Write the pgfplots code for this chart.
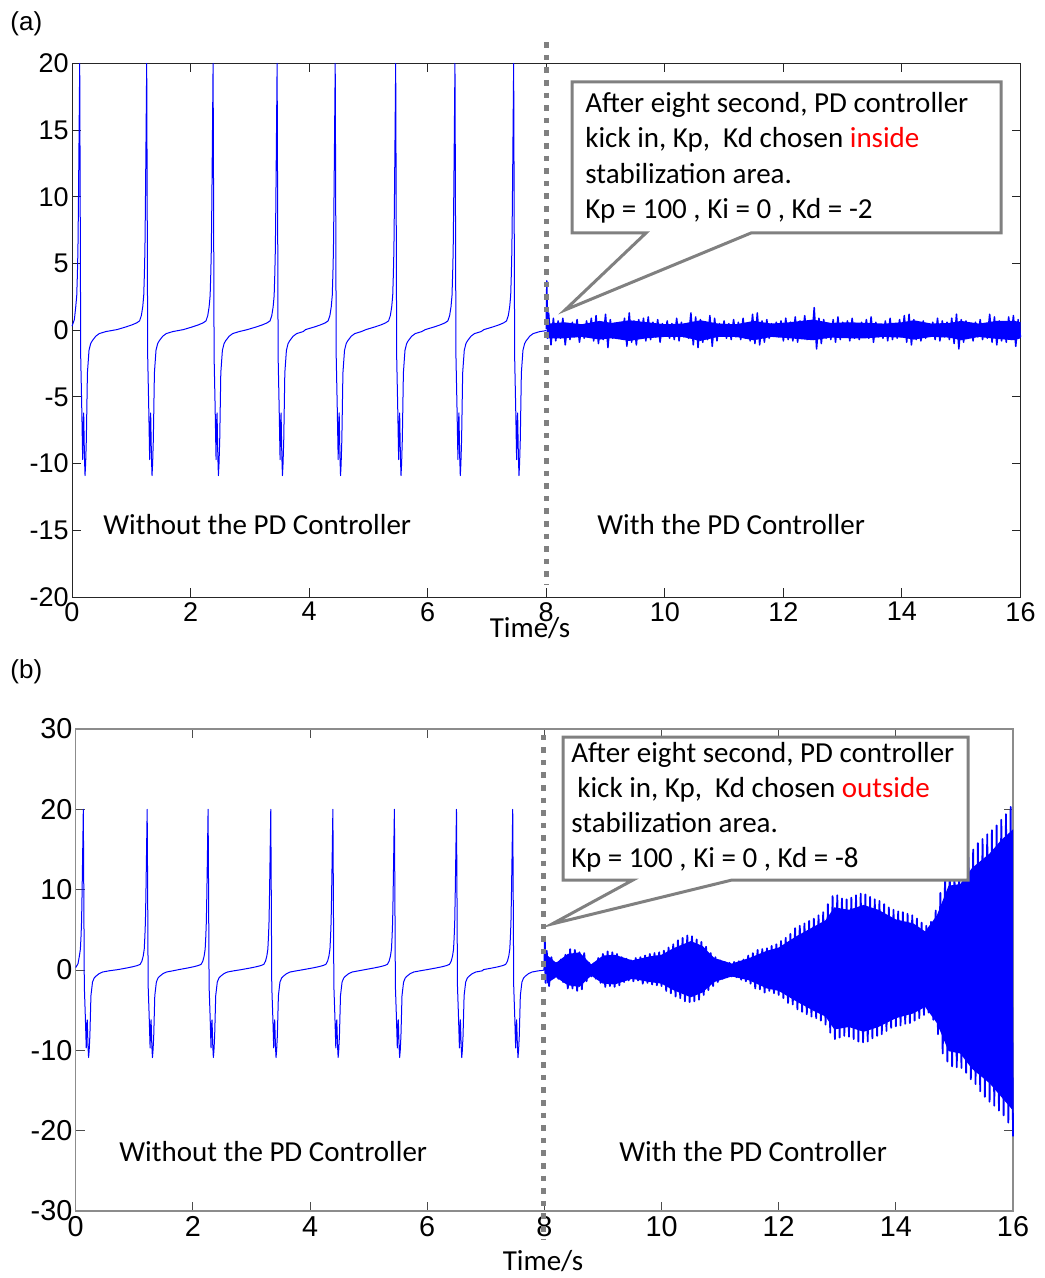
\documentclass[border=0pt]{standalone}
\usepackage{pgfplots}
\pgfplotsset{compat=1.18}
\usepackage{fontspec}
\setmainfont{Carlito}
\newfontfamily\arialf{Liberation Sans}
\definecolor{sigblue}{RGB}{0,0,255}
\definecolor{dotgray}{RGB}{128,128,128}
\definecolor{axgray}{RGB}{140,140,140}

\begin{document}
\begin{tikzpicture}
\useasboundingbox (0,0) rectangle (522pt,-639pt);
\pgfplotsset{
  base/.style={scale only axis, xmin=0, xmax=16, xtick={0,2,...,16},
    tick align=inside, major tick length=4.5pt, clip=false,
    /pgf/number format/assume math mode=true,
    yticklabel style={inner sep=1.5pt}, xticklabel style={inner sep=2.5pt}},
  sig/.style={sigblue, line width=0.5pt, line join=round, mark=none},
}
% ---------------- panel (a) ----------------
\begin{axis}[base, at={(36pt,-31.75pt)}, anchor=north west,
  width=474.25pt, height=266.75pt, ymin=-20, ymax=20, ytick={-20,-15,...,20},
  axis line style={black!85, line width=0.5pt}, tick style={black!85, line width=0.5pt},
  ticklabel style={font=\arialf\fontsize{13.5}{16}\selectfont}]
\addplot[sig] coordinates {
(0,0.3) (0.04,0.8) (0.063,1.75) (0.08,2.6) (0.091,4.2) (0.1,6) (0.108,9.2) (0.118,14) (0.13,20)
(0.138,10) (0.147,-2) (0.164,-5.7) (0.18,-9.7) (0.188,-7) (0.197,-6.2) (0.21,-9.5) (0.22,-10.9) (0.23,-10) (0.242,-8.2) (0.26,-3.2) (0.287,-1.5) (0.315,-1.0) (0.34,-0.8) (0.40,-0.45) (0.46,-0.25) (0.57,-0.1)
(0.76,0.05) (0.91,0.25) (1.01,0.4) (1.09,0.55) (1.14,0.7) (1.17,1.1) (1.193,1.75) (1.21,2.6) (1.221,4.2) (1.23,6) (1.238,9.2) (1.248,14) (1.26,20)
(1.268,10) (1.277,-2) (1.294,-5.7) (1.31,-9.7) (1.318,-7) (1.327,-6.2) (1.34,-9.5) (1.35,-10.9) (1.36,-10) (1.372,-8.2) (1.39,-3.2) (1.417,-1.5) (1.445,-1.0) (1.47,-0.8) (1.53,-0.45) (1.59,-0.25) (1.70,-0.1)
(1.88,0.05) (2.03,0.25) (2.13,0.4) (2.21,0.55) (2.26,0.7) (2.29,1.1) (2.313,1.75) (2.33,2.6) (2.341,4.2) (2.35,6) (2.358,9.2) (2.368,14) (2.38,20)
(2.388,10) (2.397,-2) (2.414,-5.7) (2.43,-9.7) (2.438,-7) (2.447,-6.2) (2.46,-9.5) (2.47,-10.9) (2.48,-10) (2.492,-8.2) (2.51,-3.2) (2.537,-1.5) (2.565,-1.0) (2.59,-0.8) (2.65,-0.45) (2.71,-0.25) (2.82,-0.1)
(2.96,0.05) (3.11,0.25) (3.21,0.4) (3.29,0.55) (3.34,0.7) (3.37,1.1) (3.393,1.75) (3.41,2.6) (3.421,4.2) (3.43,6) (3.438,9.2) (3.448,14) (3.46,20)
(3.468,10) (3.477,-2) (3.494,-5.7) (3.51,-9.7) (3.518,-7) (3.527,-6.2) (3.54,-9.5) (3.55,-10.9) (3.56,-10) (3.572,-8.2) (3.59,-3.2) (3.617,-1.5) (3.645,-1.0) (3.67,-0.8) (3.73,-0.45) (3.79,-0.25) (3.90,-0.1)
(3.94,0.05) (4.09,0.25) (4.19,0.4) (4.27,0.55) (4.32,0.7) (4.35,1.1) (4.373,1.75) (4.39,2.6) (4.401,4.2) (4.41,6) (4.418,9.2) (4.428,14) (4.44,20)
(4.448,10) (4.457,-2) (4.474,-5.7) (4.49,-9.7) (4.498,-7) (4.507,-6.2) (4.52,-9.5) (4.53,-10.9) (4.54,-10) (4.552,-8.2) (4.57,-3.2) (4.597,-1.5) (4.625,-1.0) (4.65,-0.8) (4.71,-0.45) (4.77,-0.25) (4.88,-0.1)
(4.96,0.05) (5.11,0.25) (5.21,0.4) (5.29,0.55) (5.34,0.7) (5.37,1.1) (5.393,1.75) (5.41,2.6) (5.421,4.2) (5.43,6) (5.438,9.2) (5.448,14) (5.46,20)
(5.468,10) (5.477,-2) (5.494,-5.7) (5.51,-9.7) (5.518,-7) (5.527,-6.2) (5.54,-9.5) (5.55,-10.9) (5.56,-10) (5.572,-8.2) (5.59,-3.2) (5.617,-1.5) (5.645,-1.0) (5.67,-0.8) (5.73,-0.45) (5.79,-0.25) (5.90,-0.1)
(5.96,0.05) (6.11,0.25) (6.21,0.4) (6.29,0.55) (6.34,0.7) (6.37,1.1) (6.393,1.75) (6.41,2.6) (6.421,4.2) (6.43,6) (6.438,9.2) (6.448,14) (6.46,20)
(6.468,10) (6.477,-2) (6.494,-5.7) (6.51,-9.7) (6.518,-7) (6.527,-6.2) (6.54,-9.5) (6.55,-10.9) (6.56,-10) (6.572,-8.2) (6.59,-3.2) (6.617,-1.5) (6.645,-1.0) (6.67,-0.8) (6.73,-0.45) (6.79,-0.25) (6.90,-0.1)
(6.95,0.05) (7.10,0.25) (7.20,0.4) (7.28,0.55) (7.33,0.7) (7.36,1.1) (7.383,1.75) (7.40,2.6) (7.411,4.2) (7.42,6) (7.428,9.2) (7.438,14) (7.45,20)
(7.458,10) (7.467,-2) (7.484,-5.7) (7.50,-9.7) (7.508,-7) (7.517,-6.2) (7.53,-9.5) (7.54,-10.9) (7.55,-10) (7.562,-8.2) (7.58,-3.2) (7.607,-1.5) (7.635,-1.0) (7.66,-0.8) (7.72,-0.45) (7.78,-0.25) (7.89,-0.1) (7.97,-0.05) (8.0,0)
};
% dense core of the small noise
\addplot[fill=sigblue, draw=none] coordinates {
(8.03,0.5) (8.3,0.6) (8.6,0.45) (8.9,0.7) (9.1,0.55) (9.4,0.75) (9.7,0.6) (10.0,0.45) (10.3,0.5) (10.6,0.75) (10.9,0.5) (11.2,0.45) (11.5,0.7) (11.8,0.5) (12.1,0.6) (12.5,0.8) (12.8,0.55) (13.1,0.6) (13.4,0.55) (13.7,0.5) (14.0,0.6) (14.2,0.75) (14.5,0.5) (14.8,0.55) (15.0,0.7) (15.3,0.5) (15.6,0.7) (15.9,0.7) (16.0,0.6)
(16.0,-0.6) (15.9,-0.75) (15.6,-0.65) (15.3,-0.5) (15.0,-0.75) (14.8,-0.55) (14.5,-0.5) (14.2,-0.7) (14.0,-0.55) (13.7,-0.5) (13.4,-0.6) (13.1,-0.6) (12.8,-0.55) (12.5,-0.75) (12.1,-0.6) (11.8,-0.5) (11.5,-0.75) (11.2,-0.5) (10.9,-0.5) (10.6,-0.8) (10.3,-0.5) (10.0,-0.5) (9.7,-0.6) (9.4,-0.8) (9.1,-0.6) (8.9,-0.7) (8.6,-0.5) (8.3,-0.6) (8.03,-0.6)
};
\addplot[sig, line width=0.75pt] coordinates {
(8.00,0.1) (8.01,3.7) (8.02,-0.6)
(8.04,1.3) (8.08,-1.1) (8.12,0.9) (8.16,-0.8) (8.20,0.7) (8.24,-0.6) (8.28,0.9) (8.32,-1.1) (8.36,0.5) (8.40,-0.7)
(8.44,0.6) (8.48,-0.5) (8.52,0.8) (8.56,-0.9) (8.60,0.4) (8.64,-0.6) (8.68,0.7) (8.72,-0.5) (8.76,0.9) (8.80,-0.8)
(8.84,1.1) (8.88,-1.0) (8.92,0.6) (8.96,-0.7) (9.00,1.2) (9.04,-1.3) (9.08,0.8) (9.12,-0.6) (9.16,0.4) (9.20,-0.5)
(9.24,0.3) (9.28,-0.4) (9.32,0.9) (9.36,-1.2) (9.40,1.3) (9.44,-0.9) (9.48,0.7) (9.52,-1.1) (9.56,0.8) (9.60,-0.6)
(9.64,0.9) (9.68,-0.8) (9.72,1.0) (9.76,-0.7) (9.80,0.6) (9.84,-0.5) (9.88,0.8) (9.92,-0.9) (9.96,0.5) (10.00,-0.4)
(10.04,0.7) (10.08,-0.6) (10.12,0.5) (10.16,-0.7) (10.20,0.9) (10.24,-0.8) (10.28,0.6) (10.32,-0.5) (10.36,0.4) (10.40,-0.6)
(10.44,1.3) (10.48,-1.1) (10.52,1.0) (10.56,-1.3) (10.60,0.8) (10.64,-0.9) (10.68,0.6) (10.72,-0.7) (10.76,1.1) (10.80,-1.2)
(10.84,0.9) (10.88,-0.8) (10.92,0.5) (10.96,-0.4) (11.00,0.7) (11.04,-0.6) (11.08,0.5) (11.12,-0.7) (11.16,0.8) (11.20,-0.5)
(11.24,0.6) (11.28,-0.7) (11.32,0.9) (11.36,-0.6) (11.40,0.4) (11.44,-0.8) (11.48,1.2) (11.52,-1.0) (11.56,1.3) (11.60,-1.1)
(11.64,0.7) (11.68,-0.9) (11.72,0.8) (11.76,-0.6) (11.80,0.5) (11.84,-0.4) (11.88,0.6) (11.92,-0.5) (11.96,0.7) (12.00,-0.8)
(12.04,0.9) (12.08,-0.7) (12.12,0.6) (12.16,-0.8) (12.20,1.0) (12.24,-0.9) (12.28,0.7) (12.32,-0.6) (12.36,1.1) (12.40,-0.7)
(12.44,0.5) (12.48,-0.6) (12.52,1.7) (12.56,-1.4) (12.60,0.9) (12.64,-1.0) (12.68,0.8) (12.72,-0.6) (12.76,0.5) (12.80,-0.7)
(12.84,0.8) (12.88,-0.9) (12.92,1.0) (12.96,-0.7) (13.00,0.6) (13.04,-0.5) (13.08,0.7) (13.12,-0.8) (13.16,0.9) (13.20,-0.6)
(13.24,0.5) (13.28,-0.7) (13.32,0.6) (13.36,-0.5) (13.40,0.8) (13.44,-0.6) (13.48,1.0) (13.52,-0.9) (13.56,0.6) (13.60,-0.5)
(13.64,0.4) (13.68,-0.6) (13.72,0.7) (13.76,-0.8) (13.80,0.9) (13.84,-0.7) (13.88,0.5) (13.92,-0.6) (13.96,0.8) (14.00,-0.5)
(14.04,1.1) (14.08,-0.9) (14.12,1.2) (14.16,-1.1) (14.20,0.8) (14.24,-0.7) (14.28,0.6) (14.32,-0.8) (14.36,0.7) (14.40,-0.6)
(14.44,0.5) (14.48,-0.4) (14.52,0.6) (14.56,-0.7) (14.60,0.9) (14.64,-0.8) (14.68,0.7) (14.72,-0.5) (14.76,0.6) (14.80,-0.7)
(14.84,0.9) (14.88,-1.0) (14.92,1.2) (14.96,-1.4) (15.00,0.8) (15.04,-0.9) (15.08,0.7) (15.12,-0.6) (15.16,0.5) (15.20,-0.8)
(15.24,0.6) (15.28,-0.5) (15.32,0.8) (15.36,-0.7) (15.40,0.5) (15.44,-0.6) (15.48,1.2) (15.52,-0.9) (15.56,1.0) (15.60,-1.1)
(15.64,0.7) (15.68,-0.8) (15.72,0.6) (15.76,-0.9) (15.80,1.0) (15.84,-0.7) (15.88,1.1) (15.92,-1.2) (15.96,0.8) (16.00,-0.5)
};
\draw[dotgray, line width=2.6pt, dash pattern=on 2.8pt off 3.5pt] (axis cs:8.005,21.6) -- (axis cs:8.005,-19.1);
\end{axis}
% ---------------- panel (b) ----------------
\begin{axis}[base, at={(37.85pt,-364.5pt)}, anchor=north west,
  width=468.65pt, height=241pt, ymin=-30, ymax=30, ytick={-30,-20,...,30},
  axis line style={axgray, line width=0.7pt}, tick style={black!70, line width=0.5pt},
  ticklabel style={font=\arialf\fontsize{14.4}{17}\selectfont}]
\addplot[sig] coordinates {
(0,0.3) (0.04,0.8) (0.063,1.75) (0.08,2.6) (0.091,4.2) (0.1,6) (0.108,9.2) (0.118,14) (0.13,20)
(0.138,10) (0.147,-2) (0.164,-5.7) (0.18,-9.7) (0.188,-7) (0.197,-6.2) (0.21,-9.5) (0.22,-10.9) (0.23,-10) (0.242,-8.2) (0.26,-3.2) (0.287,-1.5) (0.315,-1.0) (0.34,-0.8) (0.40,-0.45) (0.46,-0.25) (0.57,-0.1)
(0.72,0.05) (0.87,0.25) (0.97,0.4) (1.05,0.55) (1.10,0.7) (1.13,1.1) (1.153,1.75) (1.17,2.6) (1.181,4.2) (1.19,6) (1.198,9.2) (1.208,14) (1.22,20)
(1.228,10) (1.237,-2) (1.254,-5.7) (1.27,-9.7) (1.278,-7) (1.287,-6.2) (1.30,-9.5) (1.31,-10.9) (1.32,-10) (1.332,-8.2) (1.35,-3.2) (1.377,-1.5) (1.405,-1.0) (1.43,-0.8) (1.49,-0.45) (1.55,-0.25) (1.66,-0.1)
(1.76,0.05) (1.91,0.25) (2.01,0.4) (2.09,0.55) (2.14,0.7) (2.17,1.1) (2.193,1.75) (2.21,2.6) (2.221,4.2) (2.23,6) (2.238,9.2) (2.248,14) (2.26,20)
(2.268,10) (2.277,-2) (2.294,-5.7) (2.31,-9.7) (2.318,-7) (2.327,-6.2) (2.34,-9.5) (2.35,-10.9) (2.36,-10) (2.372,-8.2) (2.39,-3.2) (2.417,-1.5) (2.445,-1.0) (2.47,-0.8) (2.53,-0.45) (2.59,-0.25) (2.70,-0.1)
(2.83,0.05) (2.98,0.25) (3.08,0.4) (3.16,0.55) (3.21,0.7) (3.24,1.1) (3.263,1.75) (3.28,2.6) (3.291,4.2) (3.30,6) (3.308,9.2) (3.318,14) (3.33,20)
(3.338,10) (3.347,-2) (3.364,-5.7) (3.38,-9.7) (3.388,-7) (3.397,-6.2) (3.41,-9.5) (3.42,-10.9) (3.43,-10) (3.442,-8.2) (3.46,-3.2) (3.487,-1.5) (3.515,-1.0) (3.54,-0.8) (3.60,-0.45) (3.66,-0.25) (3.77,-0.1)
(3.89,0.05) (4.04,0.25) (4.14,0.4) (4.22,0.55) (4.27,0.7) (4.30,1.1) (4.323,1.75) (4.34,2.6) (4.351,4.2) (4.36,6) (4.368,9.2) (4.378,14) (4.39,20)
(4.398,10) (4.407,-2) (4.424,-5.7) (4.44,-9.7) (4.448,-7) (4.457,-6.2) (4.47,-9.5) (4.48,-10.9) (4.49,-10) (4.502,-8.2) (4.52,-3.2) (4.547,-1.5) (4.575,-1.0) (4.60,-0.8) (4.66,-0.45) (4.72,-0.25) (4.83,-0.1)
(4.94,0.05) (5.09,0.25) (5.19,0.4) (5.27,0.55) (5.32,0.7) (5.35,1.1) (5.373,1.75) (5.39,2.6) (5.401,4.2) (5.41,6) (5.418,9.2) (5.428,14) (5.44,20)
(5.448,10) (5.457,-2) (5.474,-5.7) (5.49,-9.7) (5.498,-7) (5.507,-6.2) (5.52,-9.5) (5.53,-10.9) (5.54,-10) (5.552,-8.2) (5.57,-3.2) (5.597,-1.5) (5.625,-1.0) (5.65,-0.8) (5.71,-0.45) (5.77,-0.25) (5.88,-0.1)
(6.00,0.05) (6.15,0.25) (6.25,0.4) (6.33,0.55) (6.38,0.7) (6.41,1.1) (6.433,1.75) (6.45,2.6) (6.461,4.2) (6.47,6) (6.478,9.2) (6.488,14) (6.50,20)
(6.508,10) (6.517,-2) (6.534,-5.7) (6.55,-9.7) (6.558,-7) (6.567,-6.2) (6.58,-9.5) (6.59,-10.9) (6.60,-10) (6.612,-8.2) (6.63,-3.2) (6.657,-1.5) (6.685,-1.0) (6.71,-0.8) (6.77,-0.45) (6.83,-0.25) (6.94,-0.1)
(6.96,0.05) (7.11,0.25) (7.21,0.4) (7.29,0.55) (7.34,0.7) (7.37,1.1) (7.393,1.75) (7.41,2.6) (7.421,4.2) (7.43,6) (7.438,9.2) (7.448,14) (7.46,20)
(7.468,10) (7.477,-2) (7.494,-5.7) (7.51,-9.7) (7.518,-7) (7.527,-6.2) (7.54,-9.5) (7.55,-10.9) (7.56,-10) (7.572,-8.2) (7.59,-3.2) (7.617,-1.5) (7.645,-1.0) (7.67,-0.8) (7.73,-0.45) (7.79,-0.25) (7.90,-0.1) (7.97,-0.05) (8.0,0)
};
% solid core of the growing oscillation
\addplot[fill=sigblue, draw=none] coordinates {
(8.04,1.9) (8.2,0.9) (8.4,2.0) (8.6,2.2) (8.8,0.7) (9.0,1.8) (9.2,1.9) (9.5,1.2) (9.8,1.7) (10.0,1.9) (10.2,2.7) (10.5,3.6) (10.7,3.0) (10.9,1.5) (11.2,0.8) (11.5,1.5) (11.8,2.4) (12.0,2.8) (12.3,4.2) (12.6,5.4) (12.8,6.2) (12.95,7.8) (13.2,7.5) (13.45,8.1) (13.7,7.5) (14.0,6.3) (14.3,5.8) (14.5,4.8) (14.7,6.8) (14.9,10.5) (15.1,10.7) (15.3,12.7) (15.6,14.5) (15.8,16.2) (16.0,17.5)
(16.0,-17.5) (15.8,-15.8) (15.6,-14.1) (15.3,-12.3) (15.1,-10.4) (14.9,-10.1) (14.7,-6.6) (14.5,-4.6) (14.3,-5.4) (14.0,-6.0) (13.7,-7.1) (13.45,-7.7) (13.2,-7.1) (12.95,-7.4) (12.8,-5.8) (12.6,-5.1) (12.3,-3.9) (12.0,-2.6) (11.8,-2.3) (11.5,-1.3) (11.2,-0.8) (10.9,-1.5) (10.7,-2.8) (10.5,-3.4) (10.2,-2.5) (10.0,-1.7) (9.8,-1.5) (9.5,-1.1) (9.2,-1.8) (9.0,-1.7) (8.8,-0.7) (8.6,-2.1) (8.4,-1.9) (8.2,-0.9) (8.04,-1.7)
};
\addplot[sig, line width=0.9pt] coordinates {
(8.00,0) (8.01,3.9) (8.02,-1.6)
(8.04,2.4) (8.08,-2.0) (8.12,1.6) (8.16,-1.0) (8.20,0.9) (8.24,-1.1) (8.28,1.3) (8.32,-1.5) (8.36,1.9) (8.40,-2.3)
(8.44,2.6) (8.48,-2.3) (8.52,2.5) (8.56,-2.6) (8.60,2.2) (8.64,-2.4) (8.68,2.1) (8.72,-1.4) (8.76,0.9) (8.80,-0.8)
(8.84,0.8) (8.88,-1.1) (8.92,1.5) (8.96,-1.6) (9.00,2.0) (9.04,-2.1) (9.08,2.3) (9.12,-2.0) (9.16,2.2) (9.20,-2.1)
(9.24,2.0) (9.28,-1.9) (9.32,1.6) (9.36,-1.5) (9.40,1.4) (9.44,-1.3) (9.48,1.2) (9.52,-1.4) (9.56,1.5) (9.60,-1.3)
(9.64,1.6) (9.68,-1.7) (9.72,1.8) (9.76,-1.6) (9.80,2.0) (9.84,-1.8) (9.88,2.1) (9.92,-1.9) (9.96,2.2) (10.00,-2.0)
(10.04,2.4) (10.08,-2.6) (10.12,2.8) (10.16,-2.9) (10.20,3.2) (10.24,-3.3) (10.28,3.7) (10.32,-3.5) (10.36,4.0) (10.40,-3.9)
(10.44,4.3) (10.48,-4.0) (10.52,4.2) (10.56,-3.9) (10.60,3.8) (10.64,-3.7) (10.68,3.5) (10.72,-3.1) (10.76,2.9) (10.80,-2.5)
(10.84,2.1) (10.88,-2.0) (10.92,1.6) (10.96,-1.5) (11.00,1.2) (11.04,-1.1) (11.08,1.0) (11.12,-0.9) (11.16,0.9) (11.20,-0.8)
(11.24,1.0) (11.28,-0.9) (11.32,1.1) (11.36,-1.2) (11.40,1.3) (11.44,-1.4) (11.48,1.8) (11.52,-1.7) (11.56,2.1) (11.60,-2.3)
(11.64,2.5) (11.68,-2.4) (11.72,2.6) (11.76,-2.8) (11.80,2.7) (11.84,-2.6) (11.88,3.0) (11.92,-2.9) (11.96,3.2) (12.00,-3.1)
(12.04,3.6) (12.08,-3.5) (12.12,4.0) (12.16,-4.1) (12.20,4.5) (12.24,-4.3) (12.28,5.2) (12.32,-4.9) (12.36,5.5) (12.40,-5.2)
(12.44,5.8) (12.48,-5.5) (12.52,6.1) (12.56,-5.8) (12.60,6.4) (12.64,-6.0) (12.68,6.8) (12.72,-6.3) (12.76,7.2) (12.80,-6.8)
(12.84,8.2) (12.88,-7.8) (12.92,9.2) (12.96,-8.6) (13.00,9.3) (13.04,-8.4) (13.08,8.9) (13.12,-8.2) (13.16,8.8) (13.20,-8.3)
(13.24,9.0) (13.28,-8.6) (13.32,9.3) (13.36,-8.9) (13.40,9.5) (13.44,-9.0) (13.48,9.4) (13.52,-8.9) (13.56,9.1) (13.60,-8.5)
(13.64,8.8) (13.68,-8.2) (13.72,8.6) (13.76,-8.0) (13.80,8.2) (13.84,-7.6) (13.88,7.8) (13.92,-7.2) (13.96,7.5) (14.00,-7.0)
(14.04,7.3) (14.08,-6.9) (14.12,7.2) (14.16,-6.7) (14.20,7.0) (14.24,-6.6) (14.28,6.8) (14.32,-6.3) (14.36,6.4) (14.40,-6.0)
(14.44,5.9) (14.48,-5.6) (14.52,5.5) (14.56,-5.3) (14.60,6.0) (14.64,-6.2) (14.68,7.4) (14.72,-8.0) (14.76,9.6) (14.80,-10.4)
(14.84,11.8) (14.88,-11.4) (14.92,12.5) (14.96,-12.0) (15.00,12.6) (15.04,-12.1) (15.08,12.6) (15.12,-12.2) (15.16,13.1) (15.20,-12.8)
(15.24,14.0) (15.28,-13.6) (15.32,15.0) (15.36,-14.2) (15.40,15.8) (15.44,-15.1) (15.48,16.3) (15.52,-15.8) (15.56,16.9) (15.60,-16.4)
(15.64,17.4) (15.68,-16.9) (15.72,18.0) (15.76,-17.5) (15.80,18.7) (15.84,-18.1) (15.88,19.4) (15.92,-19.0) (15.96,20.3) (16.00,-20.7)
};
\draw[dotgray, line width=2.6pt, dash pattern=on 2.8pt off 3.5pt] (axis cs:7.98,29.3) -- (axis cs:7.98,-33.5);
\end{axis}
% ---------------- annotations (pixel coordinates) ----------------
\begin{scope}[x=0.5pt, y=-0.5pt, every node/.style={inner sep=0pt, anchor=base west, font=\fontsize{14.5}{17.5}\selectfont}]
\node[font=\arialf\fontsize{13}{15}\selectfont] at (10,31) {(a)};
\node[font=\arialf\fontsize{13}{15}\selectfont] at (10,678) {(b)};
% callout (a)
\draw[dotgray, line width=1.5pt, fill=white, line join=miter]
  (572,82) -- (1001,82) -- (1001,233) -- (751,233) -- (565,310) -- (646,233) -- (572,233) -- cycle;
\node at (585,113) {After eight second, PD controller};
\node at (585,148) {kick in, Kp,\ \ Kd chosen \textcolor{red}{inside}};
\node at (585,183.5) {stabilization area.};
\node at (585,218.5) {Kp = 100 , Ki = 0 , Kd = -2};
\node at (103,534) {Without the PD Controller};
\node at (597,534) {With the PD Controller};
\node[anchor=base] at (530,637) {Time/s};
% callout (b)
\draw[dotgray, line width=1.5pt, fill=white, line join=miter]
  (563,737) -- (968,737) -- (968,880) -- (732,880) -- (552,924) -- (633,880) -- (563,880) -- cycle;
\node at (571,762) {After eight second, PD controller};
\node at (577,797) {kick in, Kp,\ \ Kd chosen \textcolor{red}{outside}};
\node at (571,832.5) {stabilization area.};
\node at (571,867.5) {Kp = 100 , Ki = 0 , Kd = -8};
\node at (119,1161) {Without the PD Controller};
\node at (619,1161) {With the PD Controller};
\node[anchor=base] at (543,1270) {Time/s};
\end{scope}
\end{tikzpicture}
\end{document}
